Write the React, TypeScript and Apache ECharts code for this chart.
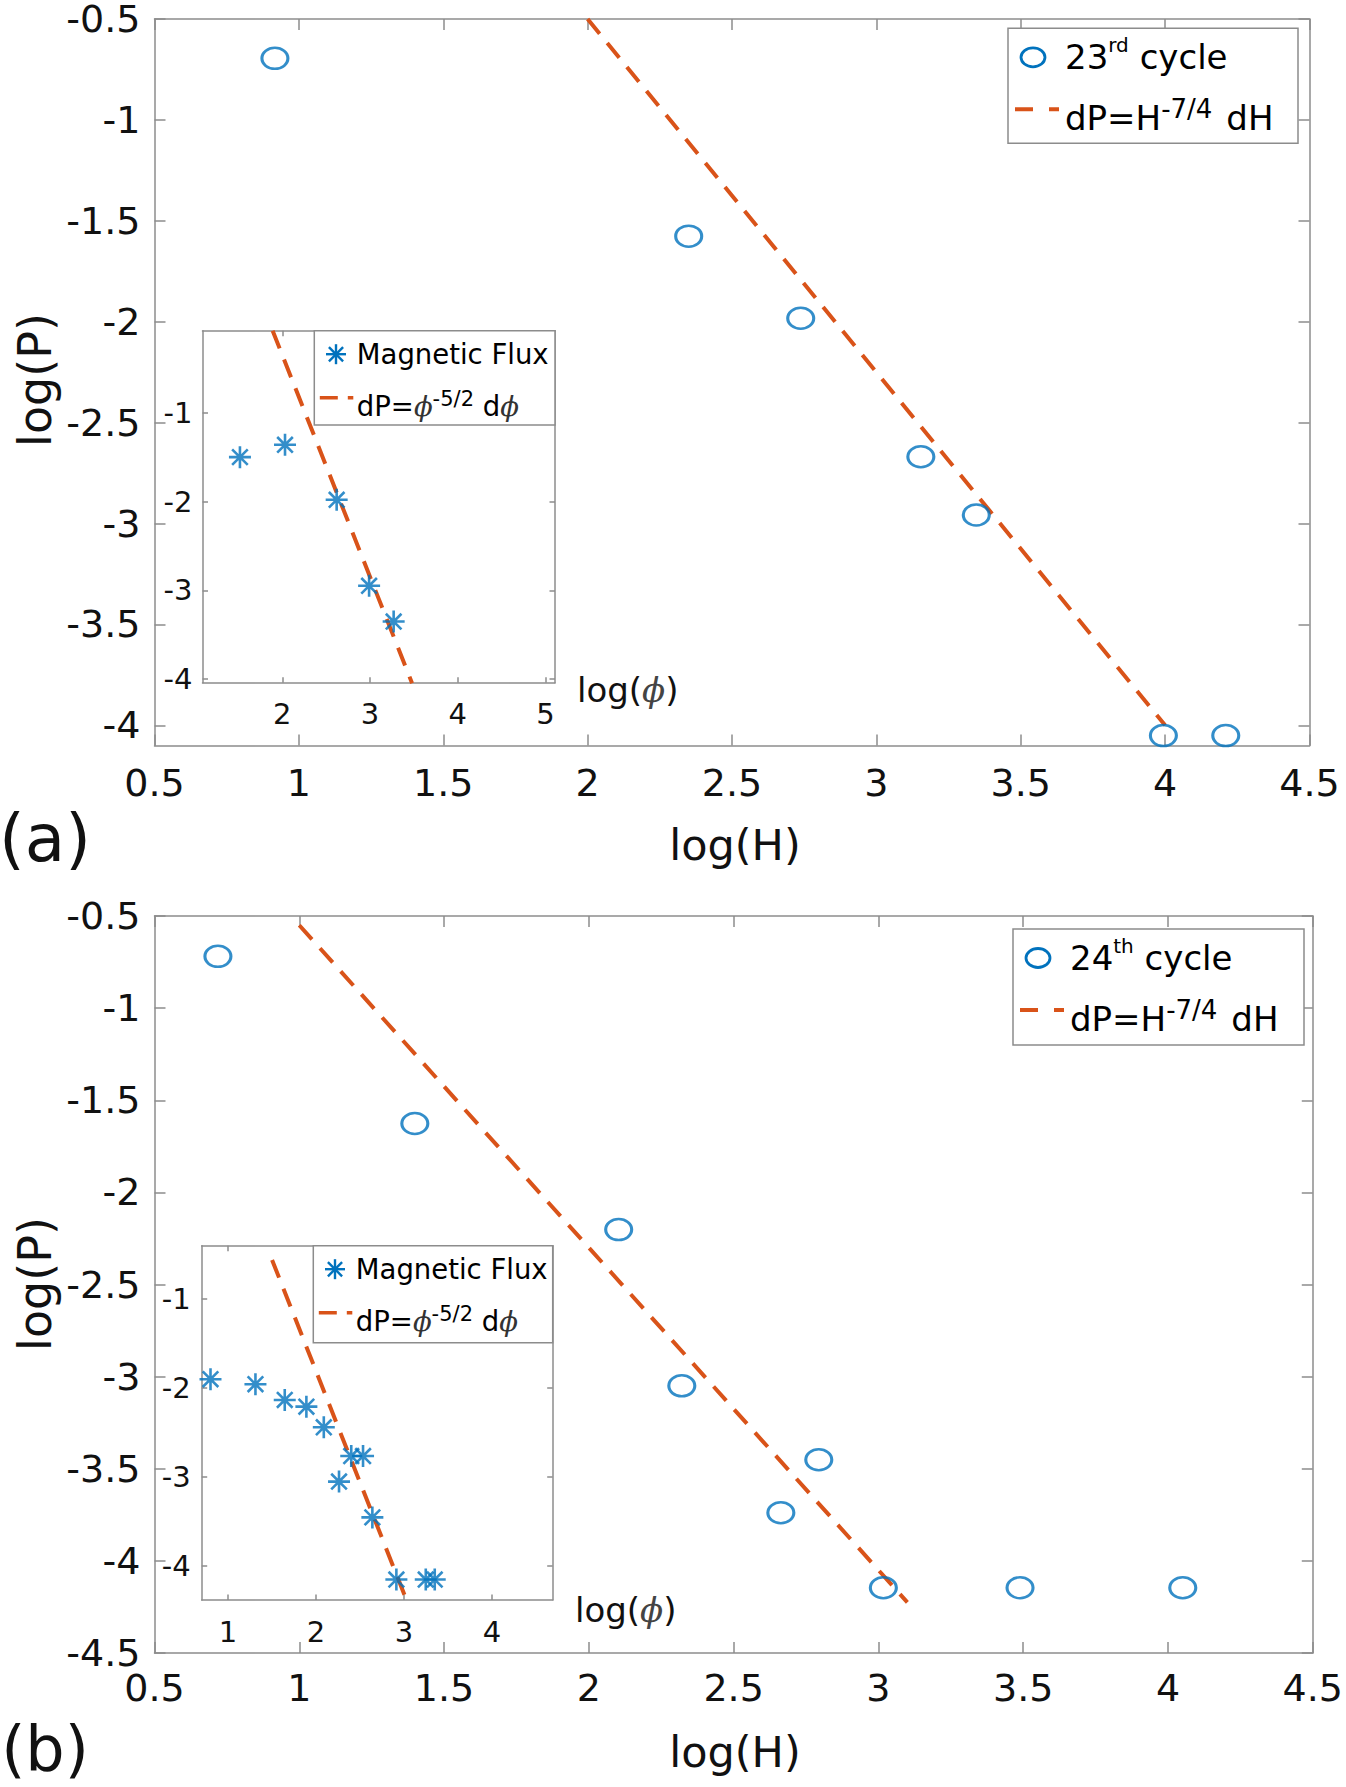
import React, { useEffect, useRef } from 'react';
import * as echarts from 'echarts';

const BLUE = '#0072BD';
const ORANGE = '#D95319';
const GREY = '#8c8c8c';
const FONT = 'DejaVu Sans';

// (a) 23rd cycle, log(H) vs log(P)
const cycle23: number[][] = [
  [0.917, -0.695], [2.35, -1.576], [2.738, -1.983], [3.154, -2.669],
  [3.346, -2.958], [3.994, -4.051], [4.21, -4.051],
];
const fit23: number[][] = [[2, -0.5], [4, -4]];
// (a) inset, magnetic flux
const flux23: number[][] = [
  [1.517, -1.496], [2.031, -1.357], [2.62, -1.977], [2.99, -2.947], [3.27, -3.35],
];
const fluxFit23: number[][] = [[1.89, -0.07], [3.48, -4.045]];

// (b) 24th cycle
const cycle24: number[][] = [
  [0.719, -0.719], [1.399, -1.626], [2.103, -2.202], [2.321, -3.05], [2.794, -3.451],
  [2.663, -3.739], [3.017, -4.146], [3.489, -4.146], [4.051, -4.146],
];
const fit24: number[][] = [[1, -0.55], [3.1, -4.225]];
// (b) inset
const flux24: number[][] = [
  [0.8, -1.9], [1.311, -1.956], [1.644, -2.133], [1.89, -2.208], [2.088, -2.44],
  [2.4, -2.763], [2.534, -2.763], [2.261, -3.05], [2.64, -3.452],
  [2.913, -4.15], [3.247, -4.15], [3.349, -4.15],
];
const fluxFit24: number[][] = [[1.5, -0.56], [3.03, -4.385]];

// tick labels
const mainXTicks = [0.5, 1, 1.5, 2, 2.5, 3, 3.5, 4, 4.5];
const mainYTicksA = [-4, -3.5, -3, -2.5, -2, -1.5, -1, -0.5];
const mainYTicksB = [-4.5, -4, -3.5, -3, -2.5, -2, -1.5, -1, -0.5];
const insetXTicksA = [2, 3, 4, 5];
const insetXTicksB = [1, 2, 3, 4];
const insetYTicks = [-4, -3, -2, -1];

const RING = 'path://M0,10A10,10,0,1,1,20,10A10,10,0,1,1,0,10Z';
const STAR = 'path://M10,0L10,20M0,10L20,10M2.9,2.9L17.1,17.1M2.9,17.1L17.1,2.9';

// one grid gets two x axes (bottom/top) and two y axes (left/right) so the box has ticks all round
function axisPair(pos: string[], gridIndex: number, min: number, max: number, ticks: number[],
  tickLen: number, fontSize: number, margin: number) {
  const base: any = {
    type: 'value', gridIndex, min, max,
    axisLine: { show: true, onZero: false, lineStyle: { color: GREY, width: 1.5 } },
    axisTick: { show: true, inside: true, length: tickLen, customValues: ticks, lineStyle: { color: GREY, width: 1.5 } },
    splitLine: { show: false },
  };
  return [
    {
      ...base, position: pos[0],
      axisLabel: { show: true, customValues: ticks, margin, fontSize, lineHeight: fontSize * 0.8, fontFamily: FONT, color: '#111' },
    },
    { ...base, position: pos[1], axisLabel: { show: false } },
  ];
}

function starIcon(cx: number, cy: number, r: number) {
  const d = r * 0.71;
  const seg = (x1: number, y1: number, x2: number, y2: number) => ({
    type: 'line', z: 101, shape: { x1, y1, x2, y2 }, style: { stroke: BLUE, lineWidth: 2.4 },
  });
  return {
    type: 'group', children: [
      seg(cx, cy - r, cx, cy + r), seg(cx - r, cy, cx + r, cy),
      seg(cx - d, cy - d, cx + d, cy + d), seg(cx - d, cy + d, cx + d, cy - d),
    ],
  };
}

function mainLegend(x: number, y: number, w: number, h: number, ord: string) {
  const rich = {
    a: { fontSize: 34, lineHeight: 44, fontFamily: FONT, fill: '#000' },
    o: { fontSize: 20, lineHeight: 20, verticalAlign: 'top', fontFamily: FONT, fill: '#000' },
    e: { fontSize: 26, lineHeight: 22, verticalAlign: 'top', fontFamily: FONT, fill: '#000' },
    g: { fontSize: 34, lineHeight: 44, fontFamily: FONT, fill: '#000', padding: [0, 0, 0, 14] },
  };
  const num = ord === 'rd' ? '23' : '24';
  return [
    { type: 'rect', z: 100, shape: { x, y, width: w, height: h }, style: { fill: '#fff', stroke: GREY, lineWidth: 1.5 } },
    { type: 'ellipse', z: 101, shape: { cx: x + 25, cy: y + 29, rx: 12, ry: 9.5 }, style: { fill: 'none', stroke: BLUE, lineWidth: 2.8 } },
    { type: 'text', z: 101, x: x + 57, y: y + 29, style: { text: `{a|${num}}{o|${ord}}{a| cycle}`, rich, align: 'left', verticalAlign: 'middle' } },
    { type: 'line', z: 101, shape: { x1: x + 7, y1: y + 81, x2: x + 51, y2: y + 81 }, style: { stroke: ORANGE, lineWidth: 4, lineDash: [18, 16] } },
    { type: 'text', z: 101, x: x + 57, y: y + 90, style: { text: '{a|dP=H}{e|-7/4}{g|dH}', rich, align: 'left', verticalAlign: 'middle' } },
  ];
}

function insetLegend(x: number, y: number, w: number, h: number) {
  const rich = {
    a: { fontSize: 27.5, lineHeight: 36, fontFamily: FONT, fill: '#000' },
    p: { fontSize: 27.5, lineHeight: 36, fontFamily: 'DejaVu Serif', fontStyle: 'italic', fill: '#333' },
    s: { fontSize: 21, lineHeight: 20, verticalAlign: 'top', fontFamily: FONT, fill: '#000' },
  };
  return [
    { type: 'rect', z: 100, shape: { x, y, width: w, height: h }, style: { fill: '#fff', stroke: GREY, lineWidth: 1.5 } },
    { ...starIcon(x + 21.7, y + 23.5, 10), z: 101 },
    { type: 'text', z: 101, x: x + 42.5, y: y + 23.5, style: { text: '{a|Magnetic Flux}', rich, align: 'left', verticalAlign: 'middle' } },
    { type: 'line', z: 101, shape: { x1: x + 5.5, y1: y + 67, x2: x + 39, y2: y + 67 }, style: { stroke: ORANGE, lineWidth: 3.5, lineDash: [18, 10] } },
    { type: 'text', z: 101, x: x + 42.5, y: y + 75.5, style: { text: '{a|dP=}{p|\u03d5}{s|-5/2}{a| d}{p|\u03d5}', rich, align: 'left', verticalAlign: 'middle' } },
  ];
}

function plainText(text: string, x: number, y: number, fontSize: number, rotation = 0) {
  return {
    type: 'text', z: 100, x, y, rotation,
    style: { text, fontSize, lineHeight: fontSize * 0.9, fontFamily: FONT, fill: '#111', align: 'center', verticalAlign: 'middle' },
  };
}

function phiLabel(x: number, y: number) {
  return {
    type: 'text', z: 100, x, y,
    style: {
      text: '{a|log(}{p|\u03d5}{a|)}', align: 'left', verticalAlign: 'middle',
      rich: {
        a: { fontSize: 34, fontFamily: FONT, fill: '#111' },
        p: { fontSize: 34, fontFamily: 'DejaVu Serif', fontStyle: 'italic', fill: '#444' },
      },
    },
  };
}

const App: React.FC = () => {
  const chartRef = useRef<HTMLDivElement | null>(null);

  useEffect(() => {
    document.body.style.margin = '0';
    if (!chartRef.current) return;
    const chart = echarts.init(chartRef.current, undefined, { renderer: 'svg' });

    const scatterRing = (xi: number, data: number[][]) => ({
      type: 'scatter', xAxisIndex: xi, yAxisIndex: xi, data, symbol: RING, symbolSize: [26, 21], z: 4,
      itemStyle: { color: 'rgba(0,0,0,0)', borderColor: BLUE, borderWidth: 2.8 },
    });
    const scatterStar = (xi: number, data: number[][]) => ({
      type: 'scatter', xAxisIndex: xi, yAxisIndex: xi, data, symbol: STAR, symbolSize: 22, z: 4,
      itemStyle: { color: 'rgba(0,0,0,0)', borderColor: BLUE, borderWidth: 2.6 },
    });
    const dashed = (xi: number, data: number[][]) => ({
      type: 'line', xAxisIndex: xi, yAxisIndex: xi, data, symbol: 'none', showSymbol: false, z: 3,
      lineStyle: { color: ORANGE, width: 4, type: [19, 12] },
    });

    const xAxis = [
      ...axisPair(['bottom', 'top'], 0, 0.5, 4.5, mainXTicks, 11, 38, 22),
      ...axisPair(['bottom', 'top'], 1, 1.09, 5.11, insetXTicksA, 5.5, 29, 20),
      ...axisPair(['bottom', 'top'], 2, 0.5, 4.5, mainXTicks, 11, 38, 20),
      ...axisPair(['bottom', 'top'], 3, 0.7, 4.69, insetXTicksB, 5.5, 29, 20),
    ];
    const yAxis = [
      ...axisPair(['left', 'right'], 0, -4.1, -0.5, mainYTicksA, 11, 38, 14),
      ...axisPair(['left', 'right'], 1, -4.04, -0.07, insetYTicks, 5.5, 29, 10),
      ...axisPair(['left', 'right'], 2, -4.5, -0.5, mainYTicksB, 11, 38, 14),
      ...axisPair(['left', 'right'], 3, -4.38, -0.4, insetYTicks, 5.5, 29, 11),
    ];

    chart.setOption({
      animation: false,
      backgroundColor: '#fff',
      grid: [
        { left: 154.5, top: 15.5, width: 1155, height: 730 },
        { left: 202.5, top: 330.7, width: 352.5, height: 352 },
        { left: 154.5, top: 916, width: 1161, height: 737 },
        { left: 201.7, top: 1245.7, width: 351, height: 354.3 },
      ],
      xAxis,
      yAxis,
      series: [
        dashed(0, fit23),
        scatterRing(0, cycle23),
        dashed(2, fluxFit23),
        scatterStar(2, flux23),
        dashed(4, fit24),
        scatterRing(4, cycle24),
        dashed(6, fluxFit24),
        scatterStar(6, flux24),
      ],
      graphic: [
        ...mainLegend(1008, 28.3, 290, 115, 'rd'),
        ...mainLegend(1013, 929, 291, 116, 'th'),
        ...insetLegend(314.3, 330.7, 240.7, 94.3),
        ...insetLegend(313.3, 1245.7, 239.4, 97),
        plainText('(a)', 45, 838, 66),
        plainText('log(H)', 735, 845, 43),
        plainText('log(P)', 35, 380, 46, Math.PI / 2),
        phiLabel(577, 690),
        plainText('(b)', 45, 1748, 62),
        plainText('log(H)', 735, 1752, 43),
        plainText('log(P)', 35, 1284, 46, Math.PI / 2),
        phiLabel(575, 1610),
      ],
    });

    return () => chart.dispose();
  }, []);

  return <div ref={chartRef} style={{ width: '1346px', height: '1787px' }} />;
};

export default App;
